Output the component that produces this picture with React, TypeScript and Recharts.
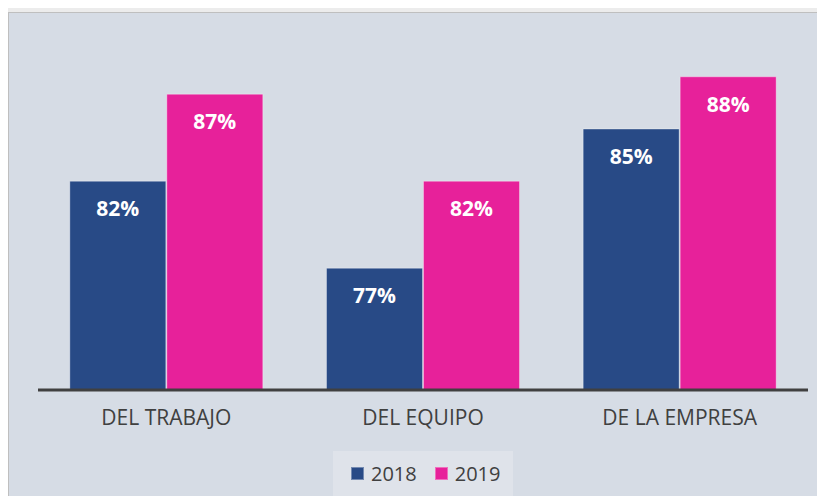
import { Bar, BarChart, LabelList, Legend, XAxis, YAxis } from "recharts";

const categories = ["DEL TRABAJO", "DEL EQUIPO", "DE LA EMPRESA"];
const values2018 = [82, 77, 85];
const values2019 = [87, 82, 88];
const seriesNames = ["2018", "2019"];
const seriesColors = ["#284a86", "#e7219a"];

const FONT = "'Open Sans', 'Noto Sans', sans-serif";

const chartData = categories.map((name, i) => ({
  name,
  y2018: values2018[i],
  y2019: values2019[i],
}));

const LegendBox = () => (
  <div style={{ display: "flex", justifyContent: "center" }}>
    <div
      style={{
        width: 180,
        height: 45,
        background: "#dfe3ea",
        display: "flex",
        alignItems: "center",
        paddingLeft: 18,
        boxSizing: "border-box",
        fontFamily: FONT,
        fontSize: 20,
        color: "#404040",
      }}
    >
      {seriesNames.map((s, i) => (
        <div key={s} style={{ display: "flex", alignItems: "center", marginRight: i === 0 ? 18 : 0 }}>
          <span
            style={{
              width: 13,
              height: 13,
              background: seriesColors[i],
              boxShadow: "inset 0 0 0 1px rgba(255,255,255,0.35)",
              marginRight: 7,
              display: "inline-block",
            }}
          />
          <span>{s}</span>
        </div>
      ))}
    </div>
  </div>
);

export default function App() {
  return (
    <div style={{ margin: -8, width: 825, height: 504, background: "#ececec", position: "relative", overflow: "hidden" }}>
      <div
        style={{
          position: "absolute",
          left: 8,
          top: 12,
          width: 817,
          height: 492,
          background: "#d6dce5",
          borderLeft: "1px solid #bfbfbf",
          borderTop: "1px solid #bfbfbf",
          boxSizing: "border-box",
        }}
      />
      <div style={{ position: "absolute", left: 0, top: 0 }}>
        <BarChart
          width={825}
          height={504}
          data={chartData}
          margin={{ top: 42, right: 17, bottom: 8, left: 38 }}
          barCategoryGap="12.4%"
          barGap={1}
        >
          <XAxis
            dataKey="name"
            height={61}
            axisLine={{ stroke: "#404040", strokeWidth: 3 }}
            tickLine={false}
            tickSize={0}
            tickMargin={20}
            tick={{ fill: "#404040", fontSize: 21, fontFamily: FONT }}
            interval={0}
          />
          <YAxis hide domain={[70, 90]} allowDataOverflow />
          <Legend verticalAlign="bottom" content={() => <LegendBox />} />
          <Bar dataKey="y2018" name={seriesNames[0]} fill={seriesColors[0]} stroke="rgba(255,255,255,0.35)" strokeWidth={1} isAnimationActive={false}>
            <LabelList
              dataKey="y2018"
              position="insideTop"
              offset={20}
              formatter={(v: any) => `${v}%`}
              style={{ fill: "#ffffff", fontSize: 21, fontWeight: 700, fontFamily: FONT }}
            />
          </Bar>
          <Bar dataKey="y2019" name={seriesNames[1]} fill={seriesColors[1]} stroke="rgba(255,255,255,0.35)" strokeWidth={1} isAnimationActive={false}>
            <LabelList
              dataKey="y2019"
              position="insideTop"
              offset={20}
              formatter={(v: any) => `${v}%`}
              style={{ fill: "#ffffff", fontSize: 21, fontWeight: 700, fontFamily: FONT }}
            />
          </Bar>
        </BarChart>
      </div>
    </div>
  );
}
